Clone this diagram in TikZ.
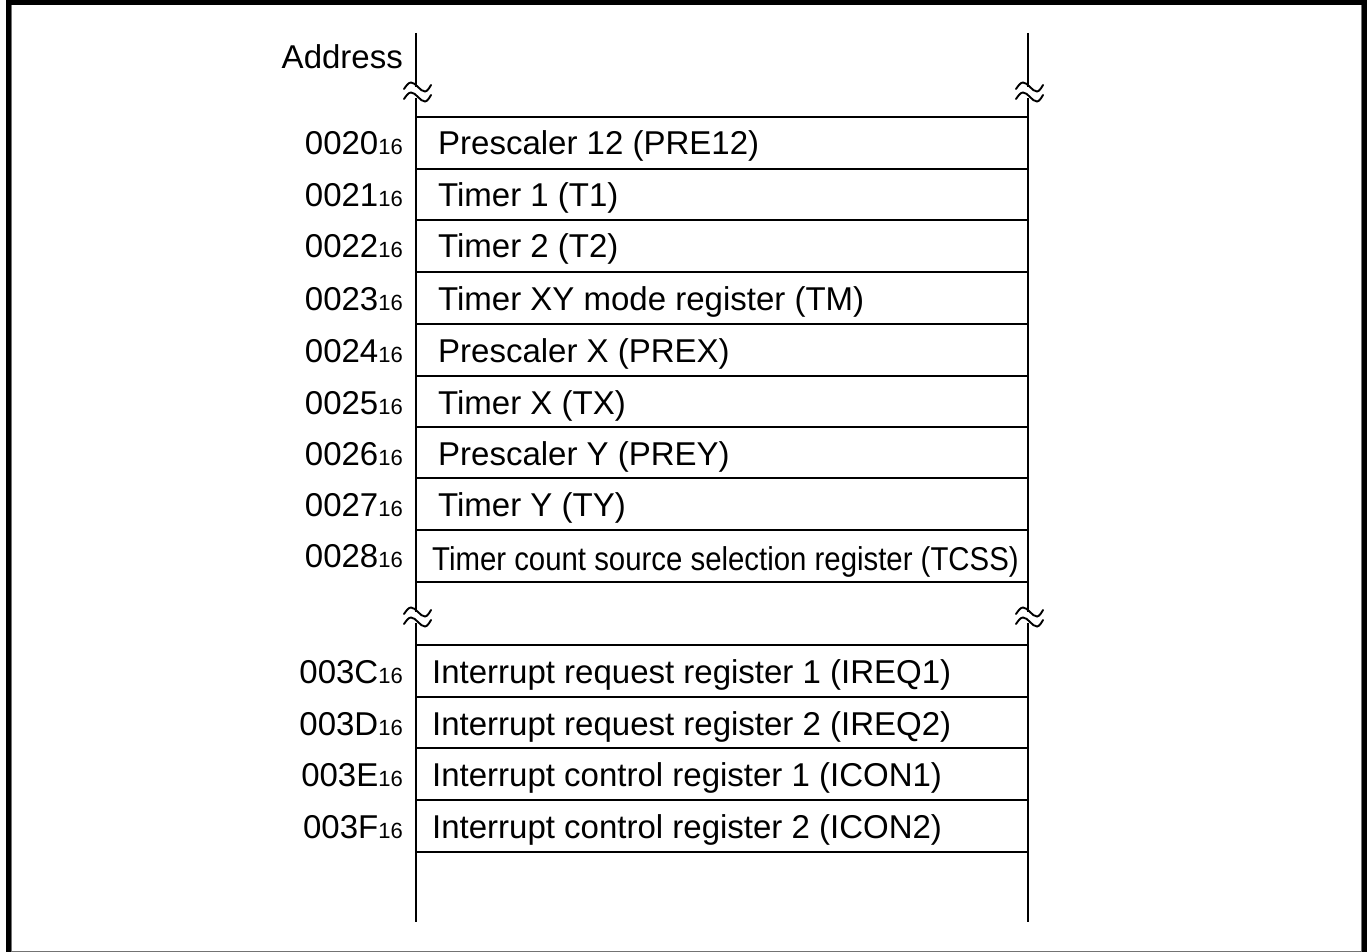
\documentclass[tikz,border=0pt]{standalone}
\usepackage{fontspec}
\setmainfont{Liberation Sans}
\newcommand\hexsub{{\fontsize{22}{24}\selectfont 16}}
\begin{document}
\begin{tikzpicture}[x=1pt,y=-1pt,
  reg/.style={anchor=base west, inner sep=0pt, font=\fontsize{33}{38}\selectfont},
  adr/.style={anchor=base east, inner sep=0pt, font=\fontsize{33}{38}\selectfont},
  rule/.style={line width=2pt},
  wave/.style={line width=1.9pt, line cap=round},
  frameline/.style={line width=1pt, draw=black!55}]
\useasboundingbox (0,0) rectangle (1369,952);
% frame
\fill[black] (6,0) rectangle (1367,5);
\fill[black] (6,0) rectangle (11,952);
\fill[black] (1362,0) rectangle (1367,952);
\draw[frameline] (11.5,5) -- (11.5,951.5) -- (1361.5,951.5) -- (1361.5,5);
% vertical walls with breaks
\foreach \x/\n in {416/L,1028/R}{
  \coordinate (top\n) at (\x,33);
  \coordinate (bot\n) at (\x,922);
  \draw[rule] (top\n) -- (\x,87);
  \draw[rule] (\x,98) -- (\x,612);
  \draw[rule] (\x,623) -- (bot\n);
  \foreach \w in {87,97,612,622}{
    \draw[wave] (\x-12,\w+2) sin (\x-5,\w-4.5) cos (\x+2,\w) sin (\x+9,\w+4.5) cos (\x+15,\w-2);
  }
}
\node[adr] (addr) at (403,69) {Address};
% upper register block
\foreach \y/\a/\t [count=\i] in {117/0020/Prescaler 12 (PRE12),169/0021/Timer 1 (T1),220/0022/Timer 2 (T2),272/0023/Timer XY mode register (TM),324/0024/Prescaler X (PREX),376/0025/Timer X (TX),427/0026/Prescaler Y (PREY),478/0027/Timer Y (TY)}{
  \draw[rule] (416,\y) -- (1028,\y);
  \node[adr] (a\i) at (403,\y+38) {\a\hexsub};
  \node[reg] (r\i) at (438,\y+38) {\t};
}
\draw[rule] (416,530) -- (1028,530);
\node[adr] (a9) at (403,567) {0028\hexsub};
\node[reg] (r9) at (432,570) {\scalebox{0.89}[1]{\fontsize{33}{38}\selectfont Timer count source selection register (TCSS)}};
\draw[rule] (416,582) -- (1028,582);
% lower register block
\foreach \y/\a/\t [count=\i from 10] in {645/003C/Interrupt request register 1 (IREQ1),697/003D/Interrupt request register 2 (IREQ2),748/003E/Interrupt control register 1 (ICON1),800/003F/Interrupt control register 2 (ICON2)}{
  \draw[rule] (416,\y) -- (1028,\y);
  \node[adr] (a\i) at (403,\y+38) {\a\hexsub};
  \node[reg] (r\i) at (432,\y+38) {\t};
}
\draw[rule] (416,852) -- (1028,852);
\end{tikzpicture}
\end{document}
